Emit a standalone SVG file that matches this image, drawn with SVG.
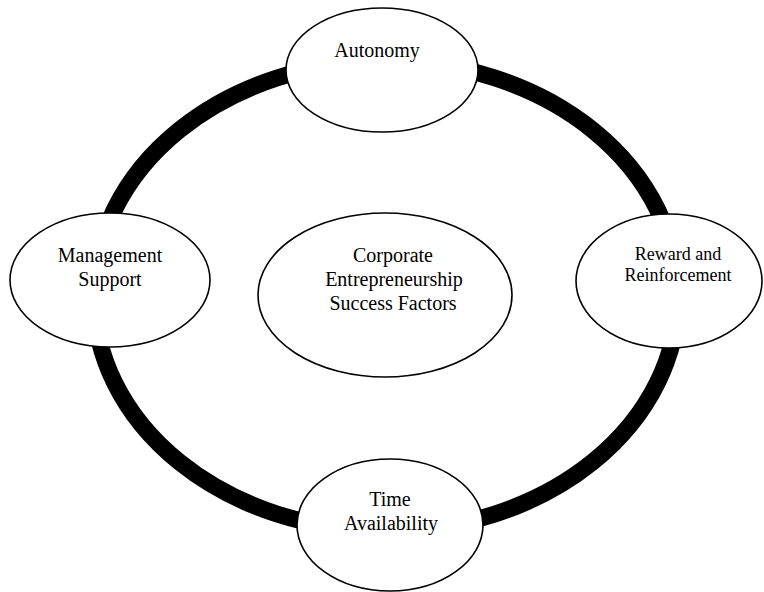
<svg xmlns="http://www.w3.org/2000/svg" width="764" height="592" viewBox="0 0 764 592">
  <style>
    .node { fill: #ffffff; stroke: #000000; stroke-width: 1.6; }
    .label { font-family: "Liberation Serif", "Times New Roman", serif; font-size: 20px; fill: #000000; text-anchor: middle; }
    .small { font-size: 18px; }
    .ring { fill: none; stroke: #000000; stroke-width: 17; }
  </style>
  <rect width="764" height="592" fill="#ffffff"/>

  <!-- thick cycle linking the four factors -->
  <g id="connectors">
    <ellipse class="ring" cx="386" cy="296" rx="292" ry="235"/>
  </g>

  <g id="center">
    <ellipse class="node" cx="385" cy="295" rx="127" ry="82"/>
    <text class="label" x="393" y="262">Corporate</text>
    <text class="label" x="394" y="286">Entrepreneurship</text>
    <text class="label" x="393" y="310">Success Factors</text>
  </g>

  <g id="autonomy">
    <ellipse class="node" cx="382" cy="70" rx="96" ry="62"/>
    <text class="label" x="377" y="57">Autonomy</text>
  </g>

  <g id="management-support">
    <ellipse class="node" cx="110" cy="280" rx="100" ry="67"/>
    <text class="label" x="110" y="262">Management</text>
    <text class="label" x="110" y="286">Support</text>
  </g>

  <g id="reward-reinforcement">
    <ellipse class="node" cx="669" cy="281" rx="93" ry="67"/>
    <text class="label small" x="678" y="260">Reward and</text>
    <text class="label small" x="678" y="281">Reinforcement</text>
  </g>

  <g id="time-availability">
    <ellipse class="node" cx="390" cy="525" rx="93" ry="66"/>
    <text class="label" x="390" y="506">Time</text>
    <text class="label" x="391" y="530">Availability</text>
  </g>
</svg>
